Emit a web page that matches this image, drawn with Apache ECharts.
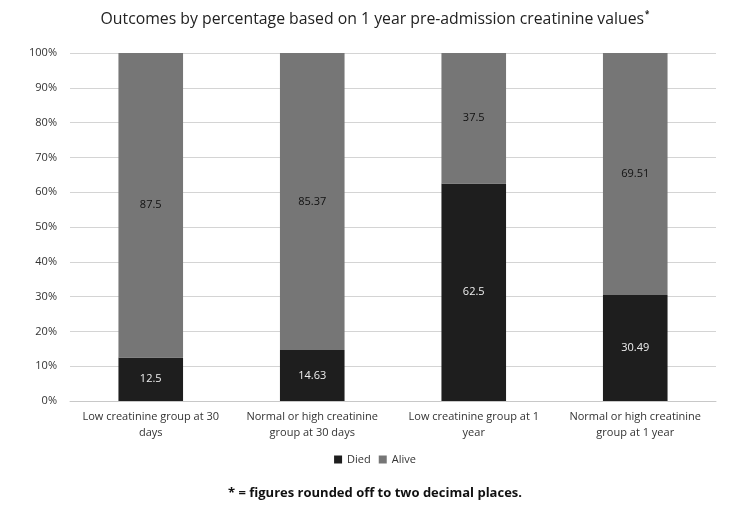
<!DOCTYPE html>
<html>
<head>
<meta charset="utf-8">
<script src="https://cdn.jsdelivr.net/npm/echarts@6/dist/echarts.min.js"></script>
<style>html,body{margin:0;padding:0;background:#fff}#c{width:750px;height:512px}</style>
</head>
<body>
<div id="c"></div>
<script>
var categories = [
  "Low creatinine group at 30\ndays",
  "Normal or high creatinine\ngroup at 30 days",
  "Low creatinine group at 1\nyear",
  "Normal or high creatinine\ngroup at 1 year"
];
var died = [12.5, 14.63, 62.5, 30.49];
var alive = [87.5, 85.37, 37.5, 69.51];
var yTicks = [0, 10, 20, 30, 40, 50, 60, 70, 80, 90, 100];
var titleText = "Outcomes by percentage based on 1 year pre-admission creatinine values";
var footnote = "* = figures rounded off to two decimal places.";

var FONT = "'Open Sans', 'Noto Sans', sans-serif";
var chart = echarts.init(document.getElementById('c'));
chart.setOption({
  animation: false,
  backgroundColor: '#fff',
  title: [{
    text: '{t|' + titleText + '}{s|*}',
    left: 'center',
    top: 6,
    textStyle: {
      rich: {
        t: { fontFamily: FONT, fontSize: 15.8, color: '#222', fontWeight: 'normal' },
        s: { fontFamily: FONT, fontSize: 8, color: '#222', verticalAlign: 'top', padding: [0, 0, 9, 1] }
      }
    }
  }, {
    text: footnote,
    left: 'center',
    top: 482,
    textStyle: { fontFamily: FONT, fontSize: 13, fontWeight: 'bold', color: '#111' }
  }],
  legend: {
    bottom: 42,
    left: 'center',
    itemWidth: 8,
    itemHeight: 8,
    itemGap: 8,
    icon: 'rect',
    textStyle: { fontFamily: FONT, fontSize: 11, color: '#333' },
    data: ['Died', 'Alive']
  },
  grid: { left: 70, right: 34, top: 53, bottom: 111, containLabel: false },
  xAxis: {
    type: 'category',
    data: categories,
    axisLine: { lineStyle: { color: '#c8c8c8' } },
    axisTick: { show: false },
    axisLabel: { fontFamily: FONT, fontSize: 11, color: '#333', lineHeight: 16, margin: 8, interval: 0 }
  },
  yAxis: {
    type: 'value',
    min: 0, max: 100, interval: 10,
    axisLine: { show: false },
    axisTick: { show: false },
    splitLine: { lineStyle: { color: '#d4d4d4' } },
    axisLabel: {
      fontFamily: FONT, fontSize: 11, color: '#333', margin: 13,
      formatter: function (v) { return yTicks.indexOf(v) >= 0 ? v + '%' : ''; }
    }
  },
  series: [{
    name: 'Died',
    type: 'bar',
    stack: 'total',
    barWidth: '40%',
    data: died,
    itemStyle: { color: '#1e1e1e' },
    label: { show: true, position: 'inside', fontFamily: FONT, fontSize: 11, color: '#eee' }
  }, {
    name: 'Alive',
    type: 'bar',
    stack: 'total',
    barWidth: '40%',
    data: alive,
    itemStyle: { color: '#767676' },
    label: { show: true, position: 'inside', fontFamily: FONT, fontSize: 11, color: '#111' }
  }]
});
</script>
</body>
</html>
